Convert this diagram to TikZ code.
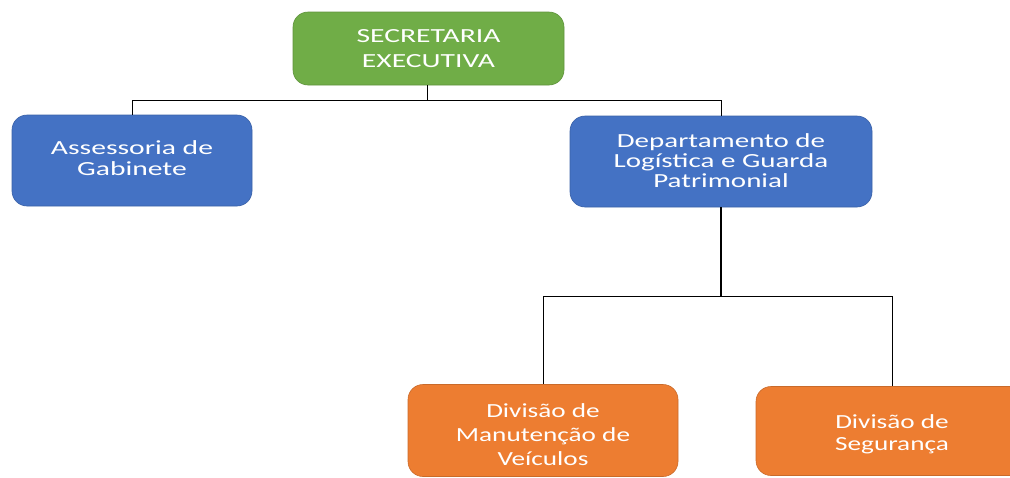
\documentclass[tikz,border=0pt]{standalone}
\usepackage{fontspec}
\usepackage{graphicx}
\setmainfont{Carlito}
\newcommand\boxtext[3][1.48]{{\fontsize{20}{#2}\selectfont\scalebox{#1}[1]{\begin{tabular}{@{}c@{}}#3\end{tabular}}}}
\newcommand\shiftdown[2]{\raisebox{-#1}[\height][\depth]{#2}}
\begin{document}
\begin{tikzpicture}[x=1pt,y=-1pt,
  box/.style={rounded corners=15pt, draw=#1!85!black, line width=0.6pt,
    text=white, inner sep=0pt},
  gbox/.style={box=boxgreen, fill=boxgreen},
  bbox/.style={box=boxblue, fill=boxblue},
  obox/.style={box=boxorange, fill=boxorange},
  conn/.style={draw=black, line width=1pt}]
\definecolor{boxgreen}{HTML}{70AD47}
\definecolor{boxblue}{HTML}{4472C4}
\definecolor{boxorange}{HTML}{ED7D31}
\useasboundingbox (0,0) rectangle (1010,477);
\clip (0,0) rectangle (1010,477);
\node[gbox, minimum width=271pt, minimum height=73pt] (sec) at (428.5,48.5) {\shiftdown{1.5pt}{\boxtext{25}{SECRETARIA\\EXECUTIVA}}};
\node[bbox, minimum width=240pt, minimum height=91pt] (ass) at (132,160.5) {\boxtext{21}{Assessoria de\\Gabinete}};
\node[bbox, minimum width=302pt, minimum height=91pt] (dep) at (721,161.5) {\shiftdown{2pt}{\boxtext[1.45]{20}{Departamento de\\Logística e Guarda\\Patrimonial}}};
\node[obox, minimum width=270pt, minimum height=92pt] (man) at (543,430.5) {\shiftdown{6pt}{\boxtext[1.36]{24}{Divisão de\\Manutenção de\\Veículos}}};
\node[obox, minimum width=272pt, minimum height=89pt] (seg) at (892,431) {\shiftdown{4pt}{\boxtext[1.36]{22}{Divisão de\\Segurança}}};
\coordinate (j1) at (427,100);
\coordinate (j2) at (721,296);
\draw[conn] (sec.south -| j1) -- (j1) -| (ass.north);
\draw[conn] (j1) -| (dep.north);
\draw[conn, line width=2pt] (dep.south) -- (j2);
\draw[conn] (j2) -| (man.north);
\draw[conn] (j2) -| (seg.north);
\end{tikzpicture}
\end{document}
